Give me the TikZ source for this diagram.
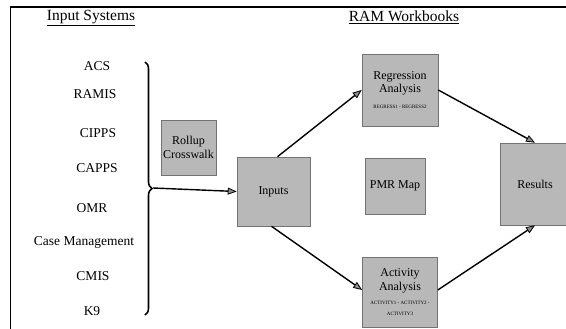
\documentclass[tikz,border=0pt]{standalone}
\usepackage{fontspec}
\setmainfont{Liberation Serif}
\usetikzlibrary{arrows.meta,decorations.pathreplacing}
\begin{document}
\begin{tikzpicture}[x=1pt,y=-1pt,
  wbox/.style={draw=black!55,line width=0.6pt,fill=black!28,inner sep=1pt,align=center,font=\fontsize{12}{13.5}\selectfont},
  lst/.style={font=\fontsize{13.5}{15}\selectfont,inner sep=0pt},
  head/.style={font=\fontsize{15.5}{17}\selectfont,inner sep=0pt},
  tiny/.style={font=\fontsize{4.5}{5}\selectfont},
  conn/.style={line width=1.4pt,-{Triangle[length=9pt,width=7pt,line width=0.8pt,fill=black!45]}}]
\useasboundingbox (0,0) rectangle (566,329);
\fill[white] (0,0) rectangle (566,329);
% frame
\draw[line width=1.2pt] (10,7) -- (566,7);
\draw[line width=0.7pt] (10,7) -- (10,329);
% headings
\node[head] (h1) at (91,18) {\underline{Input Systems}};
\node[head] (h2) at (404,17) {\underline{RAM Workbooks}};
% list
\node[lst] (acs) at (97,66) {ACS};
\node[lst] (ramis) at (95,94) {RAMIS};
\node[lst] (cipps) at (98,133) {CIPPS};
\node[lst] (capps) at (97,168) {CAPPS};
\node[lst] (omr) at (92,208) {OMR};
\node[lst] (cm) at (84,242) {Case Management};
\node[lst] (cmis) at (93,276) {CMIS};
\node[lst] (k9) at (92,311) {K9};
% brace
\draw[line width=1.6pt,decorate,decoration={brace,amplitude=7pt,aspect=0.5}] (145,62) -- (145,315);
\coordinate (tip) at (153,188);
% boxes
\node[wbox,minimum width=55pt,minimum height=55pt] (roll) at (188.5,147.5) {Rollup\\Crosswalk};
\node[wbox,minimum width=73pt,minimum height=69pt] (inp) at (273.5,191.5) {Inputs};
\node[wbox,minimum width=76pt,minimum height=72pt] (reg) at (400,90) {Regression\\Analysis\\[2pt]{\tiny REGRESS1 - REGRESS2}};
\node[wbox,minimum width=60pt,minimum height=56pt] (pmr) at (395,186) {PMR Map};
\node[wbox,minimum width=70pt,minimum height=82pt] (res) at (535,184) {Results};
\node[wbox,minimum width=75pt,minimum height=70pt] (act) at (400,292) {Activity\\Analysis\\[1pt]{\tiny ACTIVITY1 - ACTIVITY2 -}\\[-3pt]{\tiny ACTIVITY3}};
% connectors
\draw[conn] (tip) -- (inp.west);
\draw[conn] ([xshift=4pt]inp.north) -- (reg.west);
\draw[conn] (reg.east) -- (res.north);
\draw[conn] ([xshift=-2pt]inp.south) -- ([yshift=2pt]act.west);
\draw[conn] ([yshift=2pt]act.east) -- (res.south);
\end{tikzpicture}
\end{document}
